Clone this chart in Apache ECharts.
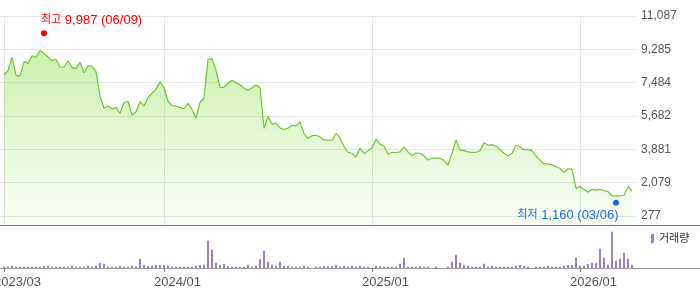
<!DOCTYPE html>
<html>
<head>
<meta charset="utf-8">
<script src="https://cdn.jsdelivr.net/npm/echarts@6/dist/echarts.min.js"></script>
<style>html,body{margin:0;padding:0;background:#fff;}#c{width:700px;height:289px;}</style>
</head>
<body>
<div id="c"></div>
<script>
// ---- data ----
const startDate = '2023-03-31';   // first weekly point (Fridays)
const weekCount = 158;
const closes = [
  7900,8140,8860,7880,7840,8620,8520,8940,8860,9220,
  9070,8870,8670,8750,8330,8330,8670,8310,8240,8580,
  8020,8400,8370,8080,6750,6100,6220,6060,6150,5830,
  6400,6480,5740,5910,6460,6220,6690,6910,7120,7540,
  7210,6480,6250,6220,6150,6060,6370,6040,5570,6410,
  6640,8750,8780,8140,7230,7230,7450,7620,7470,7380,
  7180,7070,7210,7360,7210,5020,5670,5240,5300,5040,
  4950,5030,5170,5150,5360,4730,4480,4620,4640,4550,
  4390,4370,4370,4750,4480,4030,3720,3670,3470,3940,
  3660,3790,3950,4440,4160,4060,3630,3720,3710,3740,
  4010,3740,3550,3680,3670,3520,3300,3400,3410,3400,
  3270,3030,3670,4390,3840,3810,3740,3720,3720,3810,
  4240,4100,4120,4060,3880,3670,3520,3670,4100,4020,
  3860,3880,3810,3520,3300,3090,3090,3050,2940,2860,
  2620,2830,2800,1770,1860,1720,1560,1720,1680,1720,
  1640,1590,1370,1370,1370,1400,1860,1640
];
const volumes = [
  130,130,230,130,130,130,130,130,130,130,
  200,230,130,130,130,130,130,230,130,130,
  130,230,130,230,530,430,130,130,130,200,
  130,130,230,170,930,300,200,230,300,300,
  300,230,130,130,130,130,130,130,230,300,
  330,2730,1830,530,300,400,200,130,130,130,
  130,330,130,230,870,1730,630,330,230,630,
  230,230,130,130,130,230,130,0,130,130,
  170,170,200,300,130,200,130,200,130,200,
  130,130,0,200,170,130,130,130,130,430,
  1030,130,130,130,170,130,130,0,130,0,
  0,130,630,1300,530,270,230,130,130,130,
  430,130,200,130,130,130,130,130,230,300,
  200,130,0,130,130,130,200,130,130,130,
  230,300,300,1030,230,230,400,530,470,1930,
  1030,330,3630,730,930,1530,930,330
];
const yTickLabels = ['277','2,079','3,881','5,682','7,484','9,285','11,087'];
const yTickMin = 277, yTickMax = 11087;
const highPoint = { idx: 10, value: 9987, date: '06/09' };
const lowPoint  = { idx: 153, value: 1160, date: '03/06' };
const volMax = 4200;

// ---- categories ----
const dates = [];
const t0 = Date.parse(startDate + 'T00:00:00Z');
for (let i = 0; i < weekCount; i++) {
  const d = new Date(t0 + i * 7 * 86400000);
  dates.push(d.toISOString().slice(0, 10));
}
const labelIdx = new Set();
dates.forEach((d, i) => {
  if (i === 0) { labelIdx.add(i); return; }
  if (d.slice(5, 7) === '01' && dates[i - 1].slice(5, 7) === '12') labelIdx.add(i);
});
const showIdx = (i) => labelIdx.has(i);
const fmtMonth = (v) => v.slice(0, 4) + '/' + v.slice(5, 7);
const fmtNum = (n) => n.toLocaleString('en-US');

// price grid extends 9px below the 277 gridline (grid height 209 vs 200 for ticks)
const span = yTickMax - yTickMin;
const priceAxisMin = yTickMin - span * 9 / 200;

const font = "'Liberation Sans','Noto Sans CJK KR',sans-serif";
const markRich = (color) => ({
  k: { fontSize: 11, color: color, fontFamily: font },
  n: { fontSize: 13, color: color, fontFamily: font }
});
const chart = echarts.init(document.getElementById('c'), null, { renderer: 'canvas' });
chart.setOption({
  animation: false,
  textStyle: { fontFamily: font },
  legend: {
    data: ['거래량'], left: 651, top: 233, icon: 'rect', itemWidth: 3, itemHeight: 9,
    padding: 0, selectedMode: false,
    textStyle: { fontSize: 11, color: '#333', fontFamily: font }
  },
  grid: [
    { left: 0, width: 635, top: 16, height: 200, outerBoundsMode: 'none', containLabel: false },
    { left: 4, width: 628, top: 16, height: 209, outerBoundsMode: 'none', containLabel: false },
    { left: 4, width: 628, top: 226, height: 42, outerBoundsMode: 'none', containLabel: false },
    { left: 0, right: 0, top: 225, height: 43, outerBoundsMode: 'none', containLabel: false }
  ],
  xAxis: [
    { gridIndex: 0, type: 'value', show: false, min: 0, max: 1 },
    { gridIndex: 1, type: 'category', data: dates, boundaryGap: false,
      axisLine: { show: false }, axisTick: { show: false }, axisLabel: { show: false },
      splitLine: { show: true, interval: showIdx, lineStyle: { color: '#e6e6e6', width: 1 } } },
    { gridIndex: 2, type: 'category', data: dates, boundaryGap: false,
      axisLine: { show: false },
      axisTick: { show: true, interval: showIdx, length: 4, lineStyle: { color: '#777' } },
      axisLabel: { show: true, interval: showIdx, formatter: fmtMonth, fontSize: 13,
        color: '#555', margin: 8, padding: [0, 0, 0, 27], fontFamily: font },
      splitLine: { show: false } },
    { gridIndex: 3, type: 'value', min: 0, max: 1, position: 'bottom',
      axisLine: { show: true, lineStyle: { color: '#999', width: 1 } },
      axisTick: { show: false }, axisLabel: { show: false }, splitLine: { show: false } },
    { gridIndex: 3, type: 'value', min: 0, max: 1, position: 'top',
      axisLine: { show: true, lineStyle: { color: '#777', width: 1 } },
      axisTick: { show: false }, axisLabel: { show: false }, splitLine: { show: false } }
  ],
  yAxis: [
    { gridIndex: 0, type: 'value', position: 'right', min: yTickMin, max: yTickMax,
      interval: span / 6,
      axisLine: { show: false }, axisTick: { show: false },
      axisLabel: { margin: 6, fontSize: 12, color: '#555', fontFamily: font,
        formatter: (v, i) => yTickLabels[i] !== undefined ? yTickLabels[i] : fmtNum(Math.round(v)) },
      splitLine: { show: true, lineStyle: { color: '#e6e6e6', width: 1 } } },
    { gridIndex: 1, type: 'value', min: priceAxisMin, max: yTickMax, show: false },
    { gridIndex: 2, type: 'value', min: 0, max: volMax, show: false },
    { gridIndex: 3, type: 'value', min: 0, max: 1, show: false }
  ],
  series: [
    {
      name: '주가', type: 'line', xAxisIndex: 1, yAxisIndex: 1, data: closes,
      symbol: 'none', smooth: false,
      lineStyle: { color: '#6cc631', width: 1.2 },
      itemStyle: { color: '#6cc631' },
      areaStyle: {
        origin: 'start',
        color: new echarts.graphic.LinearGradient(0, 0, 0, 1, [
          { offset: 0, color: 'rgba(120,220,40,0.55)' },
          { offset: 0.5, color: 'rgba(120,220,40,0.28)' },
          { offset: 1, color: 'rgba(120,220,40,0.06)' }
        ])
      },
      markPoint: {
        symbol: 'circle', symbolSize: 6, silent: true,
        data: [
          { coord: [dates[highPoint.idx], highPoint.value], symbolOffset: [0, -3],
            itemStyle: { color: '#ff0000' },
            label: { show: true, position: [0, -10], align: 'left', verticalAlign: 'middle',
              rich: markRich('#ff0000'),
              formatter: '{k|최고}{n| ' + fmtNum(highPoint.value) + ' (' + highPoint.date + ')}' } },
          { coord: [dates[lowPoint.idx], lowPoint.value], symbolOffset: [0, 3],
            itemStyle: { color: '#1a6dd6' },
            label: { show: true, position: [5.5, 15.5], align: 'right', verticalAlign: 'middle',
              rich: markRich('#1a6dd6'),
              formatter: '{k|최저}{n| ' + fmtNum(lowPoint.value) + ' (' + lowPoint.date + ')}' } }
        ]
      }
    },
    {
      name: '거래량', type: 'bar', xAxisIndex: 2, yAxisIndex: 2, data: volumes,
      barWidth: 2, itemStyle: { color: '#9a80c8' }, clip: false
    }
  ]
});
</script>
</body>
</html>
